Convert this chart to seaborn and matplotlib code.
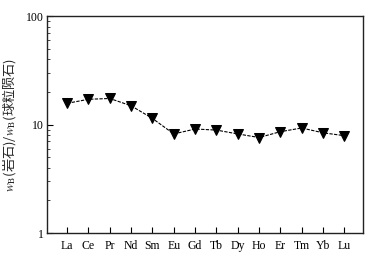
import numpy as np
import pandas as pd
import matplotlib
matplotlib.use('Agg')
import matplotlib.pyplot as plt
import seaborn as sns
from matplotlib.ticker import LogLocator, NullFormatter, FixedLocator, FixedFormatter

# REE chondrite-normalised values
elements = ['La', 'Ce', 'Pr', 'Nd', 'Sm', 'Eu', 'Gd', 'Tb', 'Dy', 'Ho', 'Er', 'Tm', 'Yb', 'Lu']
ratios = [15.7, 17.1, 17.4, 14.9, 11.4, 8.2, 9.1, 8.9, 8.2, 7.6, 8.6, 9.3, 8.4, 7.9]
yticks = [1, 10, 100]
ytick_labels = ['1', '10', '100']

df = pd.DataFrame({'element': elements, 'ratio': ratios, 'pos': np.arange(len(elements))})

sns.set_style('ticks')
plt.rcParams['font.family'] = ['Liberation Serif', 'Noto Sans CJK SC', 'DejaVu Sans']
plt.rcParams['mathtext.fontset'] = 'stix'

fig = plt.figure(figsize=(3.78, 2.59), dpi=100)
ax = fig.add_axes([0.124, 0.100, 0.836, 0.838])

sns.lineplot(data=df, x='pos', y='ratio', ax=ax, color='black', linewidth=0.8,
             linestyle=(0, (3, 1.2)), marker='v', markersize=7.5,
             markeredgecolor='black', markerfacecolor='black')

ax.set_yscale('log')
ax.set_ylim(1, 100)
ax.set_xlim(-0.95, 13.87)
ax.yaxis.set_major_locator(FixedLocator(yticks))
ax.yaxis.set_major_formatter(FixedFormatter(ytick_labels))
ax.yaxis.set_minor_locator(LogLocator(base=10, subs=np.arange(2, 10)))
ax.yaxis.set_minor_formatter(NullFormatter())
ax.set_xticks(df['pos'])
ax.set_xticklabels(elements)

ax.tick_params(axis='both', which='major', direction='in', length=4, width=0.8,
               labelsize=8.5, colors='black', pad=5)
ax.tick_params(axis='y', which='minor', direction='in', length=2.5, width=0.6)
ax.tick_params(axis='y', which='major', pad=2)
for s in ax.spines.values():
    s.set_linewidth(1.0)
    s.set_color('#222222')

ax.set_xlabel('')
ax.set_ylabel(r'$w_{\rm B}$(岩石)/$w_{\rm B}$(球粒陨石)', fontsize=9.5, labelpad=6,
              family=['Noto Sans CJK SC', 'DejaVu Sans'])

fig.savefig('out.png', dpi=100)
